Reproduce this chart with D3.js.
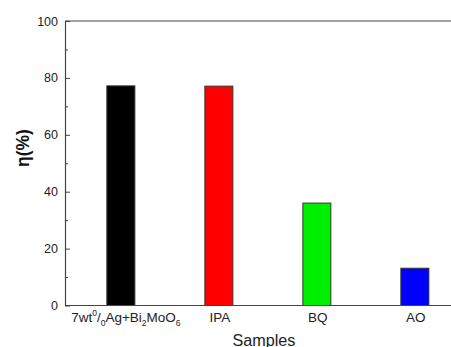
<!DOCTYPE html>
<html>
<head>
<meta charset="utf-8">
<script src="https://cdn.jsdelivr.net/npm/d3@7"></script>
<style>
  body { margin: 0; background: #fff; }
  svg { display: block; font-family: "Liberation Sans", Arial, sans-serif; }
</style>
</head>
<body>
<svg id="chart"></svg>
<script>
// Data
const samples = ["7wt%Ag+Bi2MoO6", "IPA", "BQ", "AO"];
const eta = [77.2, 77.1, 36.0, 13.1];
const colors = ["#000000", "#ff0000", "#00ee00", "#0000ff"];
const yTicks = [0, 20, 40, 60, 80, 100];
const yMinor = [10, 30, 50, 70, 90];

// label parts for the first sample (sup / sub pieces)
const firstLabel = [
  {t: "7wt", s: null}, {t: "0", s: "sup"}, {t: "/", s: null}, {t: "0", s: "sub"},
  {t: "Ag+Bi", s: null}, {t: "2", s: "sub"}, {t: "MoO", s: null}, {t: "6", s: "sub"}
];

const W = 451, H = 347;
const plotLeft = 65, plotTop = 21, plotBottom = 305.5;

const svg = d3.select("#chart").attr("width", W).attr("height", H);

const x = d3.scaleLinear()
  .domain([-0.57, 3.57])
  .range([plotLeft, plotLeft + 4.14 * 98]);

const y = d3.scaleLinear()
  .domain([0, 100])
  .range([plotBottom, plotTop]);

const barW = 28;

// bars
svg.append("g")
  .selectAll("rect")
  .data(eta)
  .enter().append("rect")
    .attr("x", (d, i) => x(i) - barW / 2)
    .attr("y", (d) => y(d))
    .attr("width", barW)
    .attr("height", (d) => y(0) - y(d))
    .attr("fill", (d, i) => colors[i])
    .attr("stroke", "#333")
    .attr("stroke-width", 1);

// frame lines (top and bottom borders)
const lineColor = "#444";
svg.append("line")
  .attr("x1", plotLeft).attr("x2", W).attr("y1", plotTop).attr("y2", plotTop)
  .attr("stroke", lineColor).attr("stroke-width", 1.2);
svg.append("line")
  .attr("x1", plotLeft).attr("x2", W).attr("y1", plotBottom).attr("y2", plotBottom)
  .attr("stroke", lineColor).attr("stroke-width", 1.2);

// Y axis, ticks pointing inward
const yAxis = d3.axisRight(y)
  .tickValues(yTicks)
  .tickSize(5)
  .tickSizeOuter(0)
  .tickFormat("");
const gy = svg.append("g")
  .attr("transform", `translate(${plotLeft},0)`)
  .call(yAxis);
gy.select(".domain").attr("stroke", lineColor).attr("stroke-width", 1.2);
gy.selectAll(".tick line").attr("stroke", lineColor);

const yAxisMinor = d3.axisRight(y)
  .tickValues(yMinor)
  .tickSize(3)
  .tickFormat("");
const gm = svg.append("g")
  .attr("transform", `translate(${plotLeft},0)`)
  .call(yAxisMinor);
gm.select(".domain").remove();
gm.selectAll(".tick line").attr("stroke", lineColor);

// Y tick labels
svg.append("g")
  .selectAll("text")
  .data(yTicks)
  .enter().append("text")
    .attr("x", plotLeft - 7)
    .attr("y", (d) => y(d))
    .attr("dy", "0.36em")
    .attr("text-anchor", "end")
    .attr("font-size", "12.5px")
    .attr("fill", "#222")
    .text((d) => d);

// X tick labels
const xl = svg.append("g");
samples.forEach((s, i) => {
  const t = xl.append("text")
    .attr("x", x(i) + (i === 0 ? 5 : 1))
    .attr("y", 322)
    .attr("text-anchor", "middle")
    .attr("font-size", "13.5px")
    .attr("fill", "#222");
  if (i === 0) {
    firstLabel.forEach((p, j) => {
      const ts = t.append("tspan").text(p.t);
      if (p.s === "sup") ts.attr("font-size", "8.5px").attr("dy", "-6");
      if (p.s === "sub") ts.attr("font-size", "8.5px").attr("dy", "4");
      // reset baseline after a shifted piece
      if (p.s === null && j > 0) {
        const prev = firstLabel[j - 1];
        ts.attr("dy", prev.s === "sup" ? "6" : (prev.s === "sub" ? "-4" : "0"));
      }
    });
  } else {
    t.text(s);
  }
});

// axis titles
svg.append("text")
  .attr("x", x(1.46))
  .attr("y", 345.5)
  .attr("text-anchor", "middle")
  .attr("font-size", "16.2px")
  .attr("fill", "#222")
  .text("Samples");

svg.append("text")
  .attr("transform", `translate(29, 148) rotate(-90)`)
  .attr("text-anchor", "middle")
  .attr("font-size", "17.5px")
  .attr("font-weight", "bold")
  .attr("fill", "#111")
  .text("η(%)");
</script>
</body>
</html>
